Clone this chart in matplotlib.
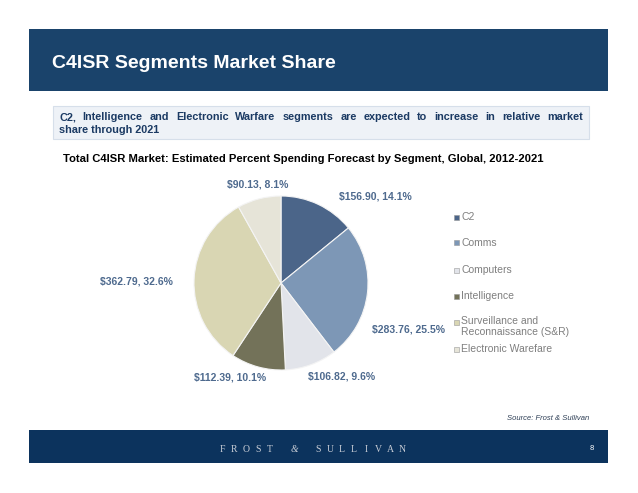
import matplotlib
import matplotlib.pyplot as plt
from matplotlib.patches import Rectangle

matplotlib.use("Agg")
plt.rcParams["font.family"] = ["Liberation Sans", "DejaVu Sans"]

# data
segments = ["C2", "Comms", "Computers", "Intelligence",
            "Surveillance and\nReconnaissance (S&R)", "Electronic Warefare"]
spend = [156.90, 283.76, 106.82, 112.39, 362.79, 90.13]
share = [14.1, 25.5, 9.6, 10.1, 32.6, 8.1]

colors = ["#4b6589", "#7d97b6", "#e2e4ea", "#737259", "#d9d6b3", "#e6e4d8"]
# label offsets from pie centre, in pie radii
label_xy = [(1.08, 1.0), (1.46, -0.54), (0.70, -1.08),
            (-0.59, -1.09), (-1.66, 0.02), (-0.27, 1.13)]

W, H = 638, 493
fig = plt.figure(figsize=(W / 100, H / 100), dpi=100)
fig.patch.set_facecolor("white")


def px(x, y):
    return x / W, 1 - y / H


def box(x0, y0, x1, y1, **kw):
    fig.patches.append(Rectangle(px(x0, y1), (x1 - x0) / W, (y1 - y0) / H,
                                 transform=fig.transFigure, **kw))


# header banner
box(29, 29, 608, 91, facecolor="#1a436b", edgecolor="none")
fig.text(*px(52, 68), "C4ISR Segments Market Share", color="white",
         fontsize=14, fontweight="bold", va="baseline")

# key message box, first line justified
box(53, 106, 589, 139, facecolor="#eef2f7", edgecolor="#d6dfea", linewidth=0.8)
renderer = fig.canvas.get_renderer()
words = "C2, Intelligence and Electronic Warfare segments are expected to increase in relative market".split()
txts = [fig.text(0, 0, w, color="#1b3a63", fontsize=7.8, fontweight="bold",
                 va="baseline") for w in words]
widths = [t.get_window_extent(renderer).width for t in txts]
left, right = 59, 583
gap = (right - left - sum(widths)) / (len(words) - 1)
x = left
for t, w in zip(txts, widths):
    t.set_position(px(x, 120.5))
    x += w + gap
fig.text(*px(left, 133.5), "share through 2021", color="#1b3a63", fontsize=7.8,
         fontweight="bold", va="baseline")

# chart title
fig.text(*px(63, 162.5), "Total C4ISR Market: Estimated Percent Spending Forecast by Segment, Global, 2012-2021",
         color="black", fontsize=8.1, fontweight="bold", va="baseline")

# pie
cx, cy, r = 281, 283, 87
half = 1.9 * r
ax = fig.add_axes([(cx - half) / W, (H - cy - half) / H, 2 * half / W, 2 * half / H])
ax.pie(spend, colors=colors, startangle=90, counterclock=False, radius=1,
       wedgeprops=dict(edgecolor="#f4f4f4", linewidth=0.8))
ax.set_xlim(-1.9, 1.9)
ax.set_ylim(-1.9, 1.9)
ax.set_aspect("equal")
ax.axis("off")
for v, p, (lx, ly) in zip(spend, share, label_xy):
    ax.text(lx, ly, f"${v:.2f}, {p:.1f}%", ha="center", va="center",
            color="#4e6a8e", fontsize=7.5, fontweight="bold")

# legend
legend_y = [217, 243, 270, 296, 322, 349]
for name, c, y in zip(segments, colors, legend_y):
    box(453.5, y - 2.5, 458.5, y + 2.5, facecolor=c, edgecolor="#999999",
        linewidth=0.4)
    two = "\n" in name
    fig.text(*px(461, y - 6 if two else y), name, color="#7f7f7f",
             fontsize=7.5, va="top" if two else "center", linespacing=1.1)

# source
fig.text(*px(589, 419), "Source: Frost & Sullivan", color="#2d3e55",
         fontsize=5.5, style="italic", ha="right", va="center")

# footer with letter-spaced wordmark
box(29, 430, 608, 463, facecolor="#0c335d", edgecolor="none")
for i, ch in enumerate("FROST & SULLIVAN"):
    if ch == " ":
        continue
    fig.text(*px(222 + 12 * i, 449), ch, color="#c8cdd6", fontsize=7,
             family="Liberation Serif", style="italic" if ch == "&" else "normal",
             ha="center", va="center")
fig.text(*px(592, 449), "8", color="white", fontsize=5.5, ha="center",
         va="center")

fig.savefig("out.png", dpi=100)
